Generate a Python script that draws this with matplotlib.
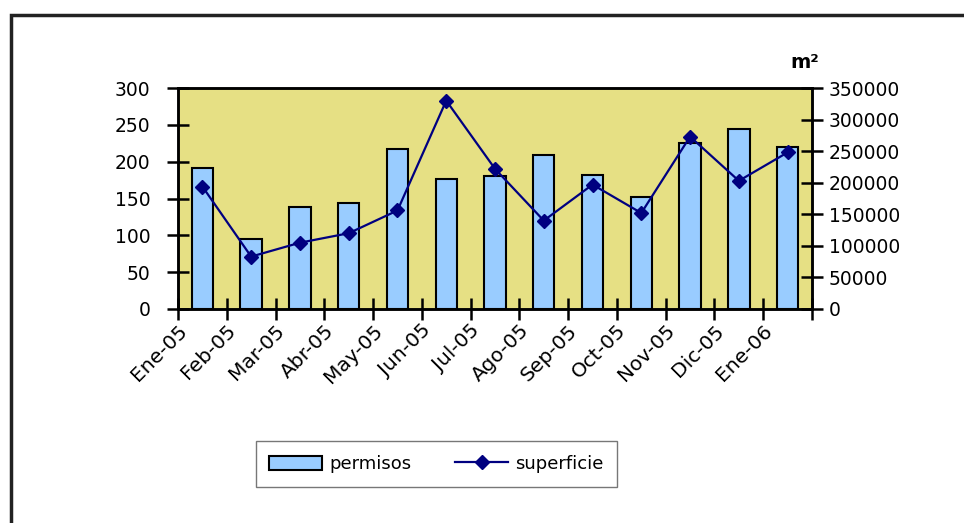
import matplotlib.pyplot as plt
from matplotlib.patches import Rectangle
import numpy as np

plt.rcParams['font.family'] = ['DejaVu Sans']

meses = ["Ene-05", "Feb-05", "Mar-05", "Abr-05", "May-05", "Jun-05", "Jul-05",
         "Ago-05", "Sep-05", "Oct-05", "Nov-05", "Dic-05", "Ene-06"]
permisos = [191, 95, 139, 144, 217, 177, 180, 209, 182, 152, 226, 245, 220]
superficie = [194000, 83000, 105000, 120000, 156000, 330000, 222000,
              140000, 197000, 152000, 273000, 203000, 248000]

fig = plt.figure(figsize=(9.64, 5.23), dpi=100)
ax1 = fig.add_axes([178/964, 1 - 309/523, 634/964, 221/523])
ax2 = ax1.twinx()

x = np.arange(len(meses))
ax1.set_facecolor("#E6E084")
b = ax1.bar(x, permisos, width=0.44, color="#99CCFF", edgecolor="black", linewidth=1.5,
            label="permisos")
l, = ax2.plot(x, superficie, color="#000080", lw=1.6, marker="D", markersize=7.5,
              label="superficie")

ax1.set_xlim(-0.5, 12.5)
ax1.set_ylim(0, 300)
ax2.set_ylim(0, 350000)
ax1.set_yticks(range(0, 301, 50))
ax2.set_yticks(range(0, 350001, 50000))

# tick marks between months, labels sit a bit left of the bar centre
ax1.set_xticks(np.arange(-0.5, 13, 1))
ax1.set_xticklabels([])
ax1.set_xticks(x - 0.37, minor=True)
ax1.set_xticklabels(meses, minor=True, rotation=45, ha="right", va="center",
                    rotation_mode="anchor", fontsize=14.5)
ax1.tick_params(axis="x", which="minor", length=0, pad=13.5)
ax1.tick_params(axis="x", which="major", direction="inout", length=16, width=1.8)
ax1.tick_params(axis="y", direction="inout", length=16, width=1.8, labelsize=13.5, pad=12)
ax2.tick_params(axis="y", direction="inout", length=16, width=1.8, labelsize=13.5, pad=4)

for ax in (ax1, ax2):
    for s in ax.spines.values():
        s.set_linewidth(1.8)
        s.set_color("black")

fig.text(805/964, 1 - 62/523, "m²", fontsize=14, fontweight="bold", ha="center", va="center")

fig.legend([b, l], ["permisos", "superficie"], loc="center",
           bbox_to_anchor=(436.5/964, 1 - 464/523), ncol=2, fontsize=13,
           frameon=True, fancybox=False, edgecolor="#555555", handlelength=2.95,
           handleheight=0.85, handletextpad=0.4, columnspacing=2.4,
           borderpad=0.75, borderaxespad=0)

fig.add_artist(Rectangle((11/964, -0.1), 1.2, 1.1 - 15/523, fill=False, lw=2.5,
                         edgecolor="#222222", transform=fig.transFigure))

fig.savefig("out.png", dpi=100)
